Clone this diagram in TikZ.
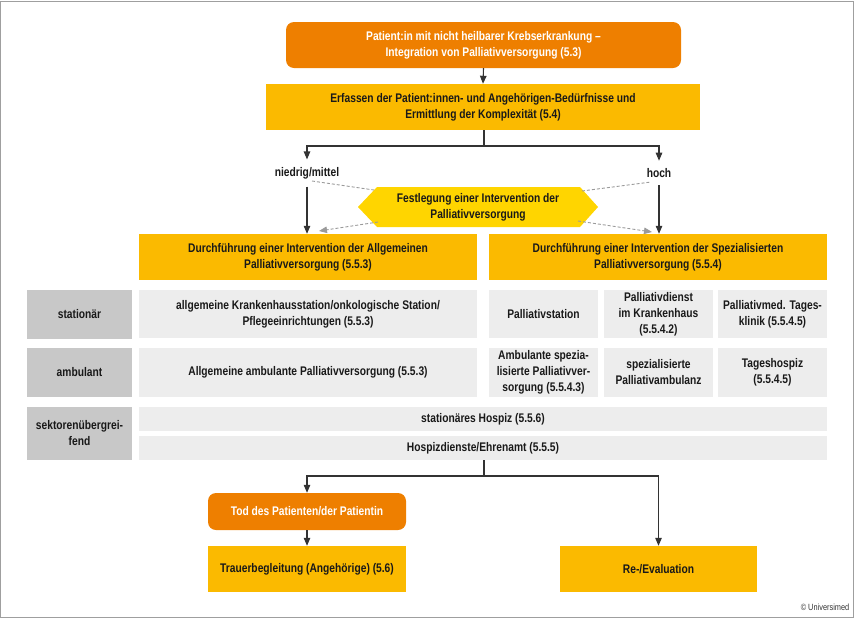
\documentclass[tikz,border=0pt]{standalone}
\usepackage{fontspec}
\setmainfont{Liberation Sans}[FakeStretch=0.82]
\usetikzlibrary{arrows.meta}
\definecolor{orng}{HTML}{EE7F00}
\definecolor{yell}{HTML}{FBBA00}
\definecolor{hexy}{HTML}{FFD500}
\definecolor{lgray}{HTML}{EDEDED}
\definecolor{dgray}{HTML}{C8C8C8}
\definecolor{linec}{HTML}{333333}
\definecolor{dashc}{HTML}{9A9A9A}
\tikzset{
  base/.style={inner sep=1pt, align=center, font=\bfseries\fontsize{12.5}{16}\selectfont, text=black!90},
  obox/.style={base, fill=orng, text=white, rounded corners=8pt},
  ybox/.style={base, fill=yell},
  gbox/.style={base, fill=lgray},
  cbox/.style={base, fill=dgray},
  lbl/.style={base, inner ysep=7.5pt},
  arr/.style={draw=linec, line width=1.1pt, -{Triangle[length=8pt,width=6.5pt]}},
  ln/.style={draw=linec, line width=1.1pt},
  dsh/.style={draw=dashc, line width=0.9pt, dash pattern=on 3pt off 2pt},
  dsharr/.style={dsh, -{Triangle[length=8pt,width=6.5pt,fill=dashc]}},
}
\begin{document}
\begin{tikzpicture}[x=1pt,y=-1pt]
\useasboundingbox (0,0) rectangle (854,619);
\draw[draw=gray!75, line width=1.3pt] (0.7,1.5) rectangle (853.2,617.2);

% top
\node[obox, minimum width=395pt, minimum height=46pt] (top) at (483.5,45) {Patient:in mit nicht heilbarer Krebserkrankung --\\Integration von Palliativversorgung (5.3)};
\node[ybox, minimum width=434pt, minimum height=46pt] (erf) at (483,107) {Erfassen der Patient:innen- und Angehörigen-Bedürfnisse und\\Ermittlung der Komplexität (5.4)};

% labels
\node[lbl] (nm) at (307,173) {niedrig/mittel};
\node[lbl] (hoch) at (659,173) {hoch};

% hexagon
\fill[hexy] (358,207) -- (377,187) -- (580,187) -- (598,207) -- (580,227) -- (377,227) -- cycle;
\node[base] (hex) at (478,207) {Festlegung einer Intervention der\\Palliativversorgung};

% interventions
\node[ybox, minimum width=338pt, minimum height=46pt] (agv) at (308,257) {Durchführung einer Intervention der Allgemeinen\\Palliativversorgung (5.5.3)};
\node[ybox, minimum width=338pt, minimum height=46pt] (spv) at (658,257) {Durchführung einer Intervention der Spezialisierten\\Palliativversorgung (5.5.4)};

% categories
\node[cbox, minimum width=105pt, minimum height=49pt] (cst) at (79.5,314.5) {stationär};
\node[cbox, minimum width=105pt, minimum height=49pt] (cam) at (79.5,372.5) {ambulant};
\node[cbox, minimum width=105pt, minimum height=53pt] (csk) at (79.5,433.5) {sektorenübergrei-\\fend};

% stationär row
\node[gbox, minimum width=338pt, minimum height=48pt] (ast) at (308,314) {allgemeine Krankenhausstation/onkologische Station/\\Pflegeeinrichtungen (5.5.3)};
\node[gbox, minimum width=109pt, minimum height=48pt] (s1) at (543.5,314) {Palliativstation};
\node[gbox, minimum width=109pt, minimum height=48pt] (s2) at (658.5,314) {Palliativdienst\\im Krankenhaus\\(5.5.4.2)};
\node[gbox, minimum width=109pt, minimum height=48pt] (s3) at (772.5,314) {Palliativmed. Tages-\\klinik (5.5.4.5)};

% ambulant row
\node[gbox, minimum width=338pt, minimum height=49pt] (aam) at (308,372.5) {Allgemeine ambulante Palliativversorgung (5.5.3)};
\node[gbox, minimum width=109pt, minimum height=49pt] (a1) at (543.5,372.5) {Ambulante spezia-\\lisierte Palliativver-\\sorgung (5.5.4.3)};
\node[gbox, minimum width=109pt, minimum height=49pt] (a2) at (658.5,372.5) {spezialisierte\\Palliativambulanz};
\node[gbox, minimum width=109pt, minimum height=49pt] (a3) at (772.5,372.5) {Tageshospiz\\(5.5.4.5)};

% sektor rows
\node[gbox, minimum width=688pt, minimum height=24pt] (hos) at (483,419) {stationäres Hospiz (5.5.6)};
\node[gbox, minimum width=688pt, minimum height=24pt] (hd) at (483,448) {Hospizdienste/Ehrenamt (5.5.5)};

% bottom
\node[obox, minimum width=198pt, minimum height=37pt] (tod) at (307,511.5) {Tod des Patienten/der Patientin};
\node[ybox, minimum width=198pt, minimum height=46pt] (trau) at (307,569) {Trauerbegleitung (Angehörige) (5.6)};
\node[ybox, minimum width=197pt, minimum height=46pt] (reev) at (658.5,569) {Re-/Evaluation};

\node[font=\fontsize{9}{10}\selectfont, text=black!80, inner sep=0pt] (copy) at (825,607) {© Universimed};

% connectors
\draw[arr] (top.south) -- (erf.north);
\coordinate (sp1) at (484,146);
\draw[ln] (erf.south -| sp1) -- (sp1);
\draw[arr] (sp1) -| (nm.north);
\draw[arr] (sp1) -| (hoch.north);
\draw[arr] (nm.south) -- (nm.south |- agv.north);
\draw[arr] (hoch.south) -- (hoch.south |- spv.north);

% dashed
\coordinate (d1a) at (312,181); \coordinate (d1b) at (374,190);
\coordinate (d2a) at (378,222); \coordinate (d2b) at (319,231);
\coordinate (d3a) at (582,191); \coordinate (d3b) at (651,182);
\coordinate (d4a) at (578,221); \coordinate (d4b) at (652,232);
\draw[dsh] (d1a) -- (d1b);
\draw[dsharr] (d2a) -- (d2b);
\draw[dsh] (d3a) -- (d3b);
\draw[dsharr] (d4a) -- (d4b);

\coordinate (sp2) at (484,476);
\draw[ln] (hd.south -| sp2) -- (sp2);
\draw[arr] (sp2) -| (tod.north);
\draw[arr] (sp2) -| (reev.north);
\draw[arr] (tod.south) -- (trau.north);
\end{tikzpicture}
\end{document}
